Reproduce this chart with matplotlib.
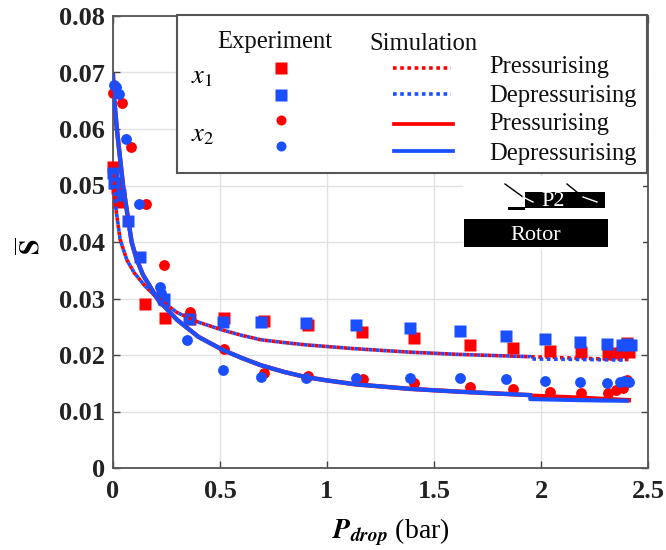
import matplotlib
matplotlib.use("Agg")
import matplotlib.pyplot as plt
from matplotlib.lines import Line2D
from matplotlib.patches import Rectangle

plt.rcParams['font.family'] = ['Liberation Serif', 'DejaVu Serif']
plt.rcParams['mathtext.fontset'] = 'stix'

RED = '#ff0000'
BLUE = '#1a4fff'

x1_press_x = [0.0, 0.01, 0.02, 0.03, 0.15, 0.245, 0.36, 0.519, 0.706, 0.912, 1.164, 1.408, 1.668, 1.87, 2.04, 2.187, 2.315, 2.35, 2.38, 2.40, 2.41]
x1_press_y = [0.0533, 0.0505, 0.0495, 0.047, 0.029, 0.0265, 0.0263, 0.0265, 0.026, 0.0253, 0.0241, 0.023, 0.0218, 0.0212, 0.0207, 0.0205, 0.0202, 0.0203, 0.0205, 0.0222, 0.0205]
x1_depr_x = [0.002, 0.005, 0.035, 0.07, 0.125, 0.24, 0.355, 0.513, 0.69, 0.90, 1.135, 1.39, 1.62, 1.836, 2.02, 2.18, 2.31, 2.38, 2.40, 2.42]
x1_depr_y = [0.0522, 0.0505, 0.0483, 0.0437, 0.0373, 0.030, 0.0263, 0.0258, 0.0258, 0.0256, 0.0253, 0.0248, 0.0242, 0.0233, 0.0228, 0.0223, 0.022, 0.0218, 0.0219, 0.0218]
x2_press_x = [0.0, 0.04, 0.085, 0.152, 0.24, 0.36, 0.52, 0.706, 0.91, 1.167, 1.408, 1.668, 1.87, 2.04, 2.187, 2.315, 2.35, 2.385, 2.40]
x2_press_y = [0.0664, 0.0646, 0.0568, 0.0467, 0.0359, 0.0276, 0.021, 0.0168, 0.0163, 0.0157, 0.015, 0.0143, 0.014, 0.0135, 0.0133, 0.0133, 0.0138, 0.0142, 0.0155]
x2_depr_x = [0.003, 0.015, 0.028, 0.06, 0.122, 0.22, 0.225, 0.23, 0.345, 0.513, 0.69, 0.90, 1.135, 1.39, 1.62, 1.836, 2.02, 2.18, 2.31, 2.37, 2.39, 2.41]
x2_depr_y = [0.0678, 0.0674, 0.0662, 0.0582, 0.0467, 0.032, 0.031, 0.0295, 0.0226, 0.0173, 0.0161, 0.0159, 0.0159, 0.0159, 0.0159, 0.0157, 0.0154, 0.0152, 0.0151, 0.0153, 0.0154, 0.0153]

sim_solid_x = [0.0, 0.004, 0.018, 0.047, 0.087, 0.11, 0.14, 0.21, 0.3, 0.4, 0.513, 0.6, 0.69, 0.8, 0.9, 1.0, 1.135, 1.39, 1.62, 1.95]
sim_solid_y = [0.0695, 0.066, 0.06, 0.05, 0.04, 0.037, 0.0342, 0.0298, 0.0262, 0.0232, 0.0209, 0.0195, 0.0182, 0.0170, 0.0161, 0.0155, 0.0148, 0.014, 0.0135, 0.0129]
sim_solid_press_end_x = [1.95, 2.2, 2.41]
sim_solid_press_end_y = [0.0128, 0.0124, 0.012]
sim_solid_depr_end_x = [1.95, 1.95, 2.2, 2.4]
sim_solid_depr_end_y = [0.0129, 0.0122, 0.012, 0.0119]
sim_dot_x = [0.0, 0.005, 0.015, 0.033, 0.05, 0.065, 0.1, 0.15, 0.2, 0.3, 0.4, 0.513, 0.6, 0.69, 0.8, 0.9, 1.135, 1.39, 1.62, 1.95]
sim_dot_y = [0.052, 0.05, 0.0455, 0.0405, 0.0385, 0.0368, 0.0345, 0.0322, 0.0303, 0.0275, 0.0258, 0.0244, 0.0235, 0.0227, 0.0222, 0.0218, 0.0211, 0.0205, 0.0201, 0.0197]
sim_dot_press_end_x = [1.95, 2.2, 2.41]
sim_dot_press_end_y = [0.0197, 0.0194, 0.0192]
sim_dot_depr_end_x = [1.95, 1.95, 2.2, 2.4]
sim_dot_depr_end_y = [0.0197, 0.0193, 0.0192, 0.0191]

x_ticks = [0, 0.5, 1, 1.5, 2, 2.5]
x_labels = ['0', '0.5', '1', '1.5', '2', '2.5']
y_ticks = [0, 0.01, 0.02, 0.03, 0.04, 0.05, 0.06, 0.07, 0.08]
y_labels = ['0', '0.01', '0.02', '0.03', '0.04', '0.05', '0.06', '0.07', '0.08']

W, H = 666, 550
fig = plt.figure(figsize=(W/100, H/100), dpi=100, facecolor='white')
def fx(p): return p / W
def fy(p): return 1 - p / H

L, R, T, B = 113, 648, 16, 468
ax = fig.add_axes([fx(L), fy(B), (R-L)/W, (B-T)/H])
ax.set_xlim(0, 2.5)
ax.set_ylim(0, 0.08)
ax.set_xticks(x_ticks, x_labels)
ax.set_yticks(y_ticks, y_labels)
ax.grid(True, color='#e2e2e2', lw=1.0)
ax.set_axisbelow(True)
ax.tick_params(direction='in', length=5, width=1, color='#444444', top=True, right=True,
               labelsize=19, labelcolor='#222222')
ax.tick_params(axis='x', pad=9)
ax.tick_params(axis='y', pad=6)
for lab in ax.get_xticklabels() + ax.get_yticklabels():
    lab.set_fontweight('bold')
for s in ax.spines.values():
    s.set_color('#555555')
    s.set_linewidth(1.3)

for xs, ys, c, m, ms in [(x1_press_x, x1_press_y, RED, 's', 8.8),
                         (x2_press_x, x2_press_y, RED, 'o', 7.8),
                         (x1_depr_x, x1_depr_y, BLUE, 's', 8.8),
                         (x2_depr_x, x2_depr_y, BLUE, 'o', 7.8)]:
    ax.plot(xs, ys, ls='none', marker=m, ms=ms, color=c, mec='none', clip_on=False, zorder=3)

dots = (0, (1, 1))
ax.plot(sim_dot_x + sim_dot_press_end_x, sim_dot_y + sim_dot_press_end_y, color=RED, lw=2.6, ls=dots, zorder=4)
ax.plot(sim_dot_x + sim_dot_depr_end_x, sim_dot_y + sim_dot_depr_end_y, color=BLUE, lw=2.6, ls=(1, (1, 1)), zorder=4)
ax.plot(sim_solid_x + sim_solid_press_end_x, sim_solid_y + sim_solid_press_end_y, color=RED, lw=3.2, zorder=5)
ax.plot(sim_solid_x + sim_solid_depr_end_x, sim_solid_y + sim_solid_depr_end_y, color=BLUE, lw=3.0, zorder=6)

ax.set_xlabel(r'$\mathbfit{P}_{\mathbfit{drop}}$ (bar)', fontsize=20, labelpad=0)
ax.xaxis.set_label_coords(0.52, -0.107)
ax.set_ylabel(r'$\overline{\mathbf{S}}$', fontsize=20, labelpad=0)
ax.yaxis.set_label_coords(-0.125, 0.49)

# overlay: schematic patch, then legend box
def rect(x0, y0, x1, y1, **kw):
    fig.add_artist(Rectangle((fx(x0), fy(y1)), (x1-x0)/W, (y1-y0)/H, transform=fig.transFigure, **kw))
def seg(x0, y0, x1, y1, **kw):
    fig.add_artist(Line2D([fx(x0), fx(x1)], [fy(y0), fy(y1)], transform=fig.transFigure, **kw))
def txt(x, y, s, **kw):
    fig.text(fx(x), fy(y), s, **kw)

rect(463, 176, 643, 250, fc='white', ec='none', zorder=10)
rect(464, 219, 608, 247, fc='black', ec='none', zorder=11)
rect(525, 192, 605, 208, fc='black', ec='none', zorder=11)
rect(508, 207, 525, 209.5, fc='black', ec='none', zorder=11)
seg(505, 184, 523, 197, color='black', lw=1, zorder=12)
seg(523, 197, 533, 202, color='white', lw=1, zorder=12)
seg(567, 184, 583, 197, color='black', lw=1, zorder=12)
seg(583, 197, 597, 202, color='white', lw=1, zorder=12)
txt(553, 202, 'P2', color='white', fontsize=16, ha='center', va='center', zorder=13)
txt(536, 235, 'Rotor', color='white', fontsize=16, ha='center', va='center', zorder=13)

rect(177, 15, 647, 173, fc='white', ec='#555555', lw=1.5, zorder=10)
txt(275, 42, 'Experiment', fontsize=17.7, ha='center', va='center', color='#111111', zorder=13)
txt(423, 44, 'Simulation', fontsize=17.7, ha='center', va='center', color='#111111', zorder=13)
txt(202, 78, r'$x_1$', fontsize=19, ha='center', va='center', zorder=13)
txt(203, 136, r'$x_2$', fontsize=19, ha='center', va='center', zorder=13)
for y, c, m, ms in [(68, RED, 's', 8.6), (95, BLUE, 's', 8.6), (120, RED, 'o', 7.2), (146, BLUE, 'o', 7.2)]:
    fig.add_artist(Line2D([fx(281)], [fy(y)], marker=m, ms=ms, color=c, mec='none', ls='none',
                          transform=fig.transFigure, zorder=13))
seg(393, 68, 451, 68, color=RED, lw=2.6, ls=dots, zorder=13)
seg(393, 94, 451, 94, color=BLUE, lw=2.6, ls=dots, zorder=13)
seg(394, 124, 453, 124, color=RED, lw=2.7, zorder=13)
seg(394, 151, 453, 151, color=BLUE, lw=2.7, zorder=13)
for y, s in [(67, 'Pressurising'), (96, 'Depressurising'), (124, 'Pressurising'), (154, 'Depressurising')]:
    txt(489, y, s, fontsize=17.7, ha='left', va='center', color='#111111', zorder=13)

fig.savefig('out.png', dpi=100)
